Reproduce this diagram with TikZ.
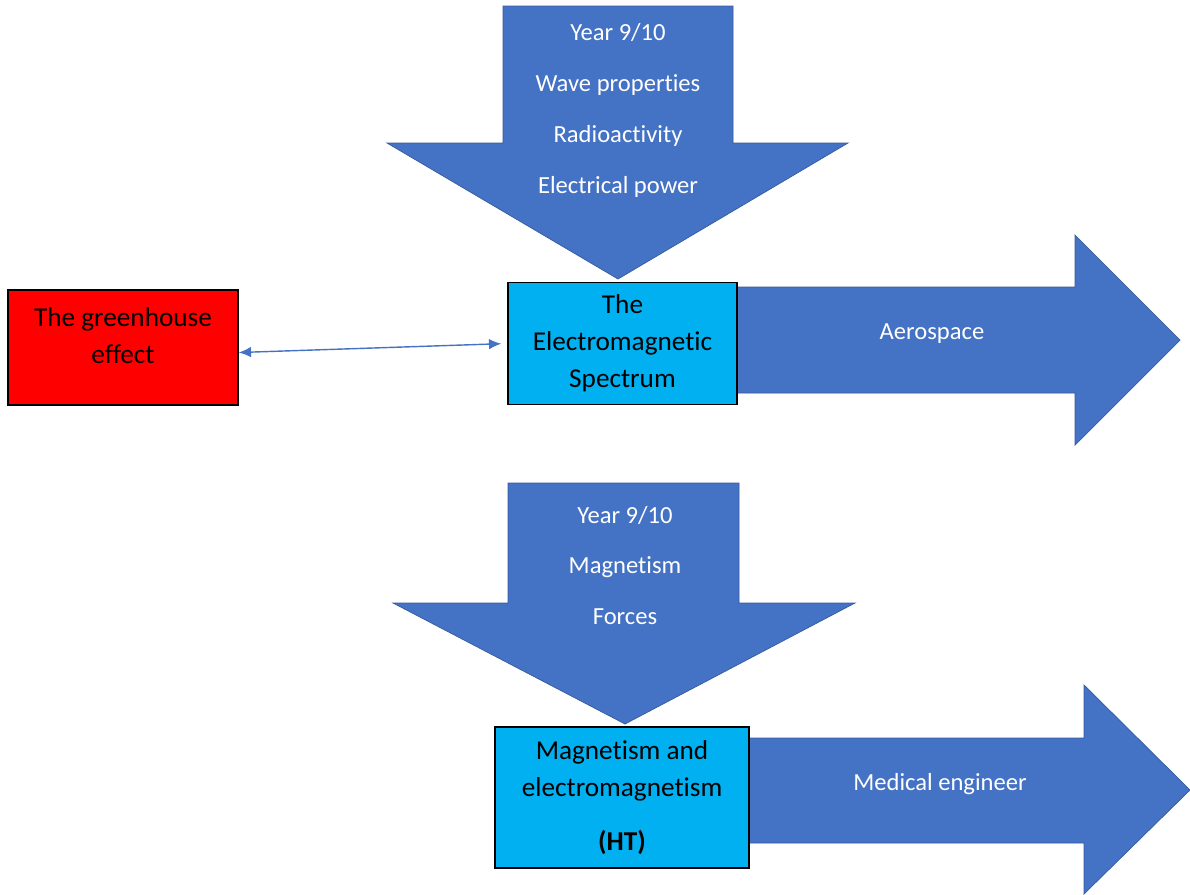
\documentclass[tikz,border=0pt]{standalone}
\usepackage{fontspec}
\setmainfont[Ligatures=NoCommon,RawFeature={-liga;-calt;-clig}]{Carlito}
\usetikzlibrary{arrows.meta}
\definecolor{arrowblue}{HTML}{4472C4}
\definecolor{boxcyan}{HTML}{00B0F0}

\begin{document}
\begin{tikzpicture}[x=0.02cm,y=-0.02cm,
    block/.style={fill=arrowblue,draw=arrowblue!80!black,line width=0.4pt},
    topic/.style={draw=black,line width=0.8pt,fill=boxcyan,align=center,inner sep=0pt,
        font=\fontsize{15.5}{21}\selectfont},
    listtext/.style={text=white,align=center,font=\fontsize{14}{29}\selectfont},
    pathtext/.style={text=white,font=\fontsize{14}{17}\selectfont}]
\useasboundingbox (0,0) rectangle (1190,894);

% down arrows
\draw[block] (503,6) -- (733,6) -- (733,143) -- (848,143) -- (618,279)
    -- (387,143) -- (503,143) -- cycle;
\draw[block] (508,483) -- (739,483) -- (739,603) -- (855,603) -- (625,724)
    -- (393,603) -- (508,603) -- cycle;

% right arrows
\draw[block] (737,287) -- (1075,287) -- (1075,235) -- (1180,340)
    -- (1075,445) -- (1075,393) -- (737,393) -- cycle;
\draw[block] (749,738) -- (1084,738) -- (1084,685) -- (1190,790)
    -- (1084,894) -- (1084,843) -- (749,843) -- cycle;

\node[listtext] (year1) at (618,110.5) {Year 9/10\\Wave properties\\Radioactivity\\Electrical power};
\node[listtext] (year2) at (625,565.5) {Year 9/10\\Magnetism\\Forces};
\node[pathtext] (aero) at (932,334) {Aerospace};
\node[pathtext] (med) at (940,784) {Medical engineer};

% boxes
\node[topic,minimum width=229*0.02cm,minimum height=122*0.02cm] (ems) at (622.5,343.5)
    {The\\Electromagnetic\\Spectrum};
\node[topic,minimum width=254*0.02cm,minimum height=141*0.02cm] (mag) at (622,797.5)
    {Magnetism and\\electromagnetism\\[10pt]\textbf{(HT)}};
\node[topic,fill=red,minimum width=230*0.02cm,minimum height=115*0.02cm] (gh) at (123,347.5) {};
\node[align=center,font=\fontsize{15.5}{21}\selectfont] (ghtext) at (123,336)
    {The greenhouse\\effect};

\draw[{Latex[length=7pt,width=6pt]}-{Latex[length=7pt,width=6pt]},arrowblue,line width=0.8pt,shorten >=6*0.02cm]
    ([yshift=-0.1cm]gh.east) -- (ems.west);
\end{tikzpicture}
\end{document}
